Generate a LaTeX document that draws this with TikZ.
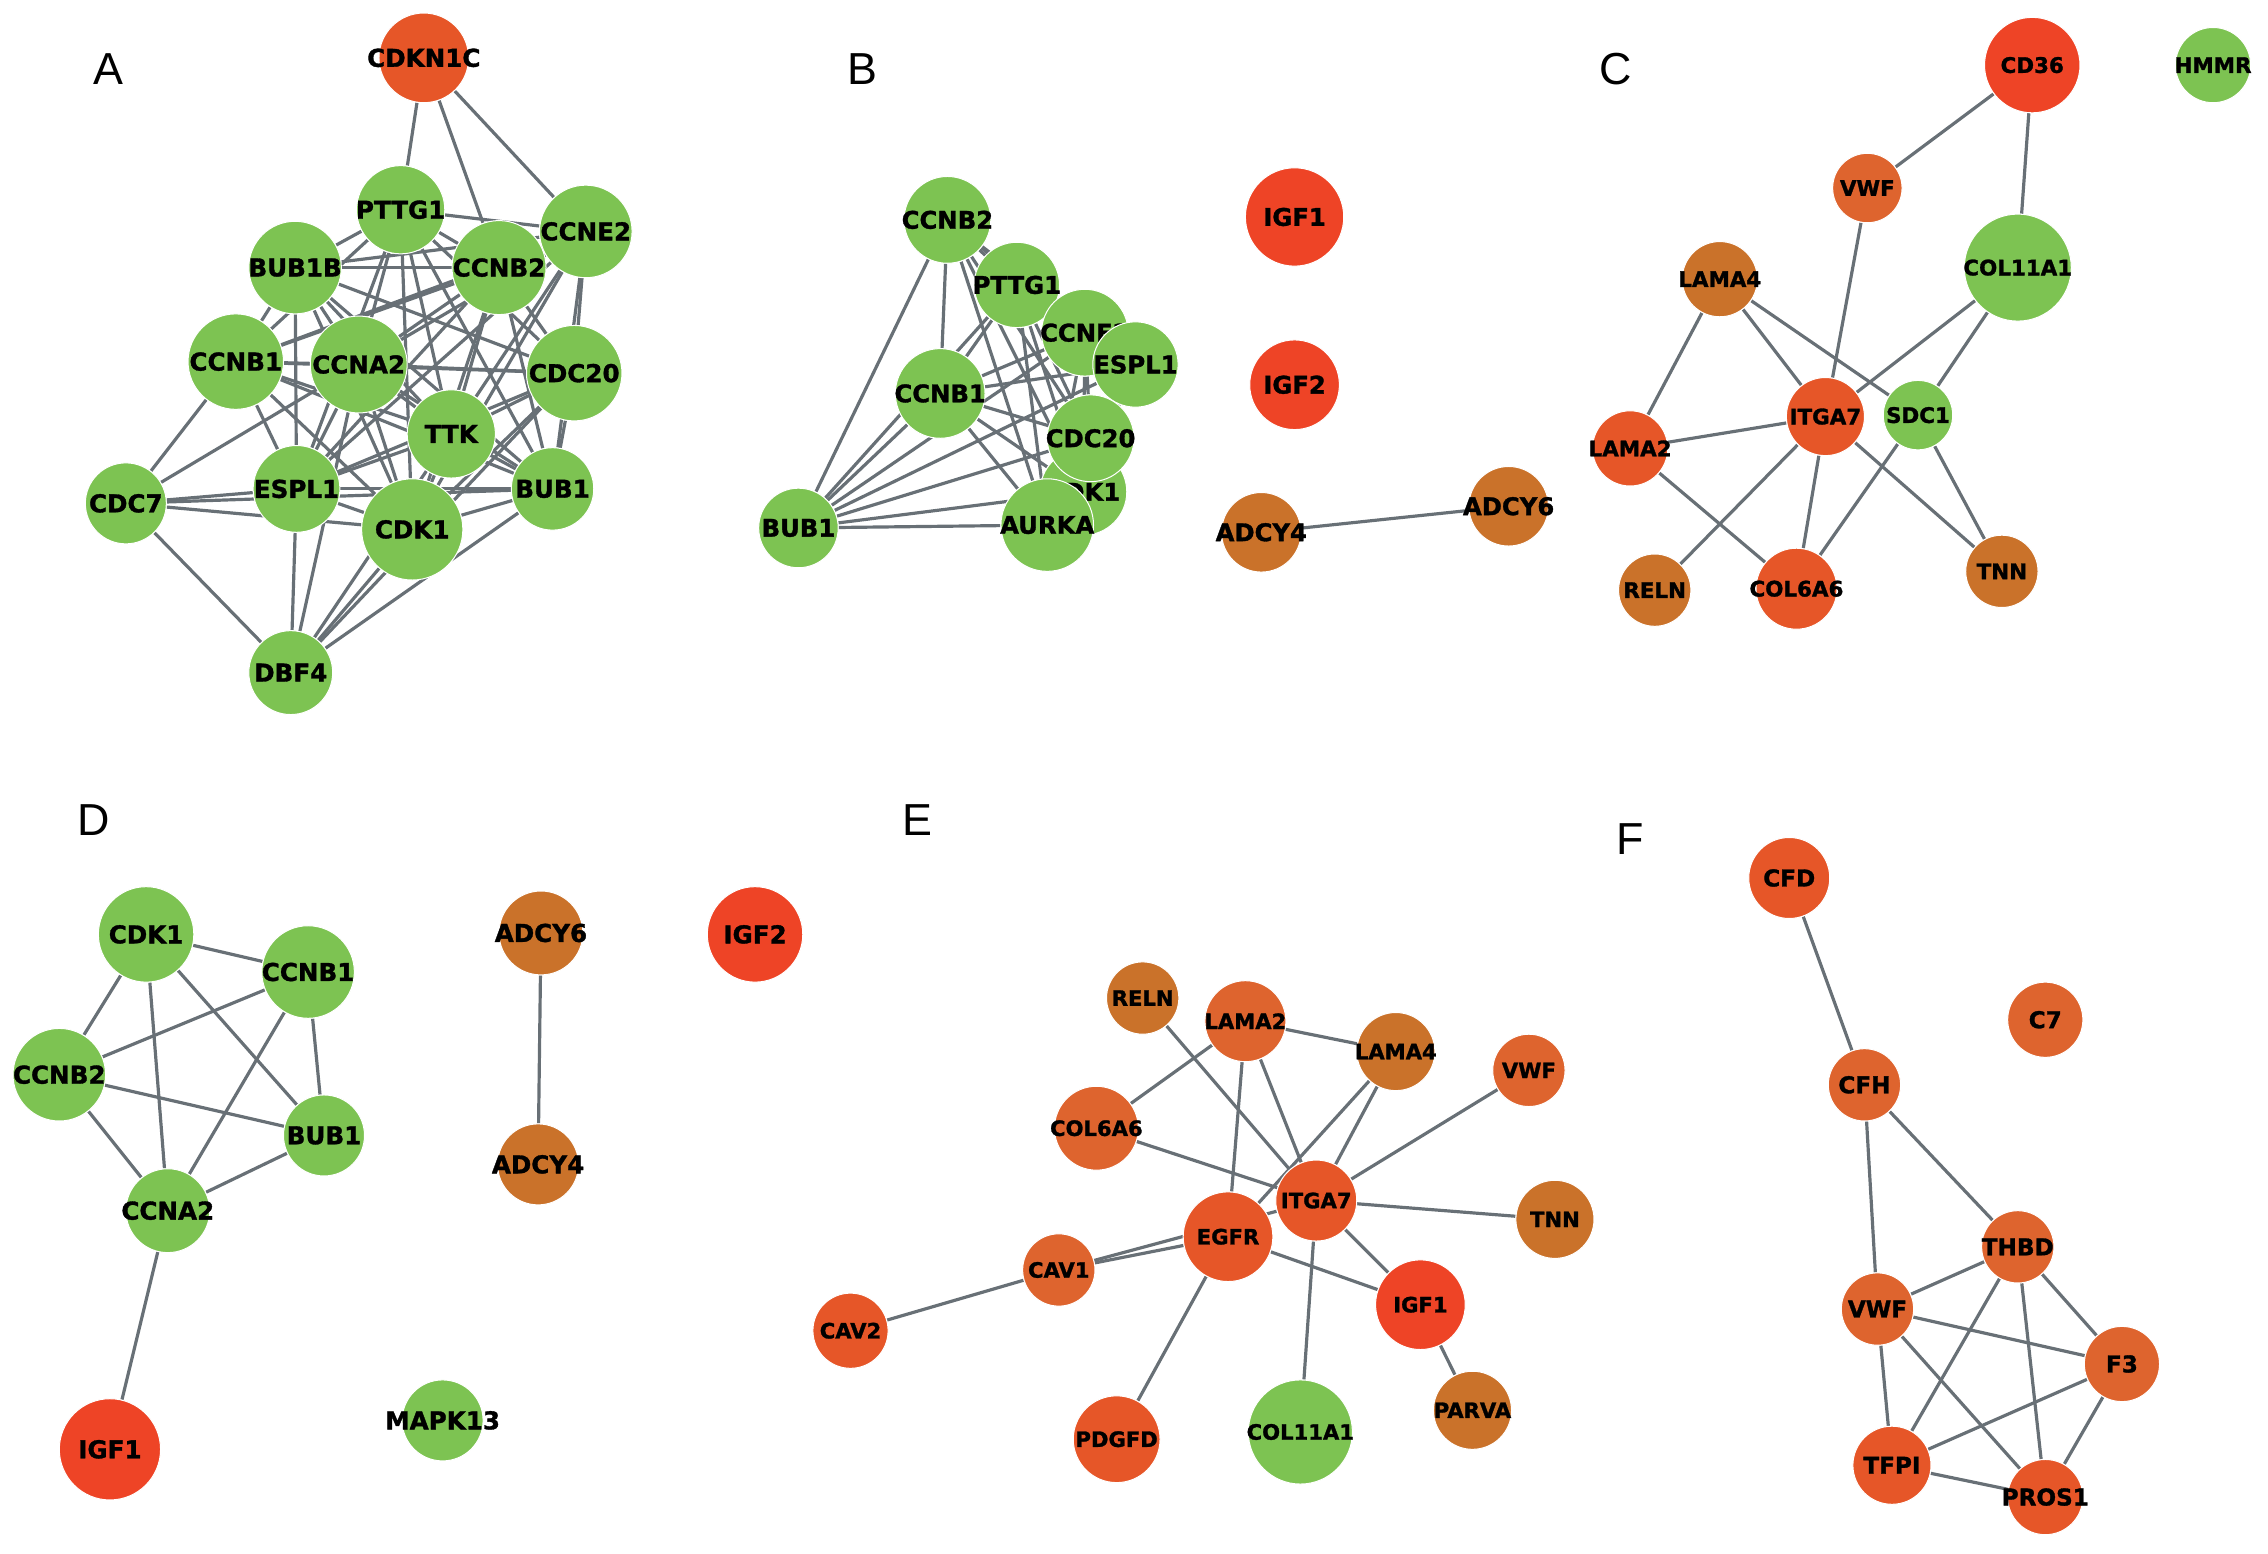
\documentclass[tikz,border=0pt]{standalone}
\usepackage{fontspec}
\setmainfont{DejaVu Sans}
\newfontfamily\heavy{DejaVu Sans Bold}[FakeBold=1.3]
\newfontfamily\letterfont{Liberation Sans}
\usetikzlibrary{backgrounds}
\definecolor{gr}{RGB}{125,195,82}
\definecolor{rd}{RGB}{238,68,38}
\definecolor{oa}{RGB}{230,86,40}
\definecolor{ob}{RGB}{222,100,46}
\definecolor{br}{RGB}{202,114,42}
\definecolor{ln}{RGB}{104,112,118}
\tikzset{
  gn/.style={circle, inner sep=0pt, draw=white, line width=0.7pt, text=black},
  lnk/.style={draw=ln, line width=2.2pt},
  panel/.style={font=\letterfont\fontsize{31}{31}\selectfont, inner sep=0pt},
  fa/.style={font=\heavy\fontsize{17}{17}\selectfont},
  fb/.style={font=\heavy\fontsize{16.8}{17}\selectfont},
  fc/.style={font=\heavy\fontsize{14.8}{15}\selectfont},
  fd/.style={font=\heavy\fontsize{17}{17}\selectfont},
  fe/.style={font=\heavy\fontsize{14.6}{15}\selectfont},
  ff/.style={font=\heavy\fontsize{16}{16}\selectfont}
}
\newcommand\nd[6][]{\node[gn,#1,fill=#2,minimum size=#3pt] (#4) at (#5) {\makebox[0pt]{#6}};}
\begin{document}
\begin{tikzpicture}[x=1pt,y=-1pt]
\useasboundingbox (0,0) rectangle (1568,1074);
% panel letters
\node[panel] (lA) at (75,48) {A};
\node[panel] (lB) at (596,48) {B};
\node[panel] (lC) at (1117,48) {C};
\node[panel] (lD) at (65,567) {D};
\node[panel] (lE) at (634,567) {E};
\node[panel] (lF) at (1127,580) {F};

% ---------------- Panel A
\begin{scope}[every node/.append style={fa}]
\nd{oa}{62}{a1}{293,40}{CDKN1C}
\nd{gr}{61}{a2}{277,145}{PTTG1}
\nd{gr}{64}{a3}{405,160}{CCNE2}
\nd{gr}{64}{a4}{204,185}{BUB1B}
\nd{gr}{65}{a5}{345,185}{CCNB2}
\nd{gr}{66}{a6}{163,250}{CCNB1}
\nd{gr}{67}{a7}{248,252}{CCNA2}
\nd{gr}{66}{a8}{397,258}{CDC20}
\nd{gr}{61}{a9}{312,300}{TTK}
\nd{gr}{56}{a10}{87,348}{CDC7}
\nd{gr}{60}{a11}{205,338}{ESPL1}
\nd{gr}{57}{a12}{382,338}{BUB1}
\nd{gr}{70}{a13}{285,366}{CDK1}
\nd{gr}{58}{a14}{201,465}{DBF4}
\end{scope}
\begin{pgfonlayer}{background}
\foreach \i in {2,3,4,5,6,7,8,9,11,12,13}{
  \foreach \j in {2,3,4,5,6,7,8,9,11,12,13}{
    \ifnum\i<\j \draw[lnk] (a\i) -- (a\j);\fi
  }}
\foreach \j in {2,3,5} \draw[lnk] (a1) -- (a\j);
\foreach \j in {6,7,11,13,12,14} \draw[lnk] (a10) -- (a\j);
\foreach \j in {11,7,13,9,12,8} \draw[lnk] (a14) -- (a\j);
\end{pgfonlayer}

% ---------------- Panel B
\begin{scope}[every node/.append style={fb}]
\nd{gr}{60}{b1}{655,152}{CCNB2}
\nd{gr}{59}{b2}{703,197}{PTTG1}
\nd{gr}{60}{b3}{750,230}{CCNE2}
\nd{gr}{59}{b4}{785,252}{ESPL1}
\nd{gr}{62}{b5}{650,272}{CCNB1}
\nd{gr}{60}{b6}{749,340}{CDK1}
\nd{gr}{60}{b7}{754,303}{CDC20}
\nd{gr}{64}{b8}{724,363}{AURKA}
\nd{gr}{55}{b9}{552,365}{BUB1}
\nd{rd}{68}{b10}{895,150}{IGF1}
\nd{rd}{62}{b11}{895,266}{IGF2}
\nd{br}{55}{b12}{872,368}{ADCY4}
\nd{br}{55}{b13}{1043,350}{ADCY6}
\end{scope}
\begin{pgfonlayer}{background}
\foreach \i in {1,...,9}{
  \foreach \j in {1,...,9}{
    \ifnum\i<\j \draw[lnk] (b\i) -- (b\j);\fi
  }}
\draw[lnk] (b12) -- (b13);
\end{pgfonlayer}

% ---------------- Panel C
\begin{scope}[every node/.append style={fc}]
\nd{rd}{66}{c1}{1405,45}{CD36}
\nd{gr}{52}{c2}{1530,45}{HMMR}
\nd{ob}{48}{c3}{1291,130}{VWF}
\nd{gr}{74}{c4}{1395,185}{COL11A1}
\nd{br}{52}{c5}{1189,193}{LAMA4}
\nd{oa}{54}{c6}{1262,288}{ITGA7}
\nd{gr}{48}{c7}{1326,287}{SDC1}
\nd{oa}{52}{c8}{1127,310}{LAMA2}
\nd{br}{50}{c9}{1144,408}{RELN}
\nd{oa}{56}{c10}{1242,407}{COL6A6}
\nd{br}{50}{c11}{1384,395}{TNN}
\end{scope}
\begin{pgfonlayer}{background}
\foreach \a/\b in {c1/c3,c1/c4,c3/c6,c5/c8,c5/c6,c5/c7,c4/c6,c4/c7,c8/c6,c8/c10,c6/c9,c6/c10,c6/c11,c7/c10,c7/c11}
  \draw[lnk] (\a) -- (\b);
\end{pgfonlayer}

% ---------------- Panel D
\begin{scope}[every node/.append style={fd}]
\nd{gr}{66}{d1}{101,646}{CDK1}
\nd{gr}{64}{d2}{213,672}{CCNB1}
\nd{gr}{64}{d3}{41,743}{CCNB2}
\nd{gr}{56}{d4}{224,785}{BUB1}
\nd{gr}{58}{d5}{116,837}{CCNA2}
\nd{rd}{70}{d6}{76,1002}{IGF1}
\nd{br}{58}{d7}{374,645}{ADCY6}
\nd{br}{56}{d8}{372,805}{ADCY4}
\nd{rd}{66}{d9}{522,646}{IGF2}
\nd{gr}{56}{d10}{306,982}{MAPK13}
\end{scope}
\begin{pgfonlayer}{background}
\foreach \a/\b in {d1/d2,d1/d3,d1/d4,d1/d5,d2/d3,d2/d4,d2/d5,d3/d4,d3/d5,d4/d5,d5/d6,d7/d8}
  \draw[lnk] (\a) -- (\b);
\end{pgfonlayer}

% ---------------- Panel E
\begin{scope}[every node/.append style={fe}]
\nd{br}{50}{e1}{790,690}{RELN}
\nd{ob}{56}{e2}{861,706}{LAMA2}
\nd{br}{54}{e3}{965,727}{LAMA4}
\nd{ob}{50}{e4}{1057,740}{VWF}
\nd{ob}{58}{e5}{758,780}{COL6A6}
\nd{oa}{56}{e6}{910,830}{ITGA7}
\nd{br}{54}{e7}{1075,843}{TNN}
\nd{oa}{62}{e8}{849,855}{EGFR}
\nd{ob}{50}{e9}{732,878}{CAV1}
\nd{rd}{62}{e10}{982,902}{IGF1}
\nd{oa}{52}{e11}{588,920}{CAV2}
\nd{oa}{60}{e12}{772,995}{PDGFD}
\nd{gr}{72}{e13}{899,990}{COL11A1}
\nd{br}{54}{e14}{1018,975}{PARVA}
\end{scope}
\begin{pgfonlayer}{background}
\foreach \a/\b in {e1/e6,e2/e3,e2/e5,e2/e8,e2/e6,e3/e8,e3/e6,e4/e6,e5/e6,e6/e7,e6/e10,e6/e13,e9/e6,e9/e8,e8/e10,e8/e12,e9/e11,e10/e14}
  \draw[lnk] (\a) -- (\b);
\end{pgfonlayer}

% ---------------- Panel F
\begin{scope}[every node/.append style={ff}]
\nd{oa}{56}{f1}{1237,607}{CFD}
\nd{ob}{52}{f2}{1414,705}{C7}
\nd{ob}{50}{f3}{1289,750}{CFH}
\nd{ob}{50}{f4}{1395,862}{THBD}
\nd{ob}{50}{f5}{1298,905}{VWF}
\nd{ob}{52}{f6}{1467,943}{F3}
\nd{oa}{54}{f7}{1308,1013}{TFPI}
\nd{oa}{52}{f8}{1414,1035}{PROS1}
\end{scope}
\begin{pgfonlayer}{background}
\foreach \a/\b in {f1/f3,f3/f5,f3/f4,f4/f5,f4/f6,f4/f7,f4/f8,f5/f6,f5/f7,f5/f8,f6/f7,f6/f8,f7/f8}
  \draw[lnk] (\a) -- (\b);
\end{pgfonlayer}
\end{tikzpicture}
\end{document}
